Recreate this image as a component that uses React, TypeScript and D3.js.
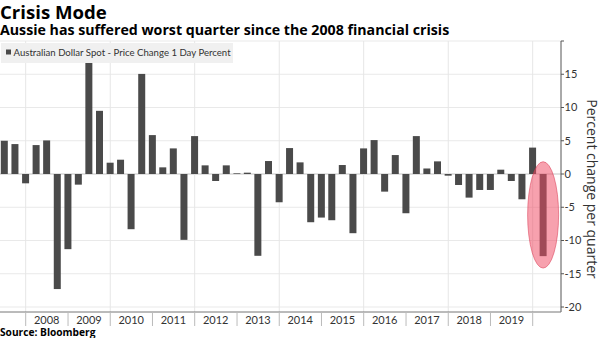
import React from "react";
import * as d3 from "d3";

const quarters: string[] = [
  "2007Q2","2007Q3","2007Q4",
  "2008Q1","2008Q2","2008Q3","2008Q4",
  "2009Q1","2009Q2","2009Q3","2009Q4",
  "2010Q1","2010Q2","2010Q3","2010Q4",
  "2011Q1","2011Q2","2011Q3","2011Q4",
  "2012Q1","2012Q2","2012Q3","2012Q4",
  "2013Q1","2013Q2","2013Q3","2013Q4",
  "2014Q1","2014Q2","2014Q3","2014Q4",
  "2015Q1","2015Q2","2015Q3","2015Q4",
  "2016Q1","2016Q2","2016Q3","2016Q4",
  "2017Q1","2017Q2","2017Q3","2017Q4",
  "2018Q1","2018Q2","2018Q3","2018Q4",
  "2019Q1","2019Q2","2019Q3","2019Q4",
  "2020Q1",
];

const changes: number[] = [
  5.0, 4.5, -1.4,
  4.35, 5.05, -17.3, -11.3,
  -1.6, 16.7, 9.5, 1.7,
  2.15, -8.3, 15.05, 5.85,
  1.0, 3.85, -9.9, 5.7,
  1.3, -1.05, 1.3, 0.1,
  0.2, -12.3, 1.95, -4.25,
  3.9, 1.75, -7.25, -6.55,
  -6.95, 1.35, -8.9, 3.85,
  5.1, -2.65, 2.85, -5.9,
  5.7, 0.83, 1.9, -0.25,
  -1.65, -3.55, -2.4, -2.4,
  0.65, -1.05, -3.8, 3.97,
  -12.35,
];

const yearLabels: number[] = [2008, 2009, 2010, 2011, 2012, 2013, 2014, 2015, 2016, 2017, 2018, 2019];
const yTicks: number[] = [20, 15, 10, 5, 0, -5, -10, -15, -20];
const yLabelTicks: number[] = [15, 10, 5, 0, -5, -10, -15, -20];
const gridYears: number[] = [2008, 2010, 2012, 2014, 2016, 2018, 2020];
const separatorYears: number[] = [2008, 2009, 2010, 2011, 2012, 2013, 2014, 2015, 2016, 2017, 2018, 2019, 2020];
const highlightRange: number[] = [1.85, -14.15];

const title = "Crisis Mode";
const subtitle = "Aussie has suffered worst quarter since the 2008 financial crisis";
const legendLabel = "Australian Dollar Spot - Price Change 1 Day Percent";
const yTitle = "Percent change per quarter";
const source = "Source: Bloomberg";

const W = 600, H = 338;
const plotLeft = 0, plotRight = 561, plotTop = 41, plotBottom = 312;

function quarterEnd(q: string): Date {
  const y = +q.slice(0, 4);
  const n = +q.slice(5);
  return new Date(y, n * 3, 0);
}

export default function App() {
  const x = d3.scaleTime()
    .domain([new Date(2008, 0, 1), new Date(2020, 0, 1)])
    .range([25.7, 532.7]);
  const y = d3.scaleLinear().domain([-20.75, 20]).range([plotBottom, plotTop]);
  const barW = 7;
  const sans = "'Open Sans', sans-serif";
  const last = quarters.length - 1;
  const cx = x(quarterEnd(quarters[last]));
  const cyTop = y(highlightRange[0]);
  const cyBot = y(highlightRange[1]);

  return (
    <svg width={W} height={H} style={{ position: "absolute", left: 0, top: 0, background: "#fff" }}
      fontFamily={sans}>
      <defs>
        <clipPath id="plotclip">
          <rect x={plotLeft} y={plotTop} width={plotRight - plotLeft} height={plotBottom - plotTop} />
        </clipPath>
      </defs>
      {/* horizontal gridlines */}
      {yTicks.map((t) => (
        <line key={"hg" + t} x1={plotLeft} x2={plotRight} y1={y(t)} y2={y(t)}
          stroke={t === 0 ? "#c4c4c4" : "#e9e9e9"} strokeWidth={1} />
      ))}
      {/* vertical gridlines */}
      {gridYears.map((yr) => (
        <line key={"vg" + yr} x1={x(new Date(yr, 0, 1))} x2={x(new Date(yr, 0, 1))}
          y1={plotTop} y2={plotBottom} stroke="#e6e6e6" strokeWidth={1} />
      ))}
      {/* bars */}
      <g clipPath="url(#plotclip)">
        {quarters.map((q, i) => {
          const v = changes[i];
          const xc = x(quarterEnd(q));
          return (
            <rect key={q} x={xc - barW / 2} width={barW}
              y={Math.min(y(v), y(0))} height={Math.abs(y(v) - y(0))}
              fill="#4a4a4a" />
          );
        })}
      </g>
      {/* highlight ellipse */}
      <ellipse cx={cx} cy={(cyTop + cyBot) / 2} rx={15.5} ry={(cyBot - cyTop) / 2}
        fill="#f04a63" fillOpacity={0.52} stroke="#d8324c" strokeOpacity={0.5} strokeWidth={1} />
      {/* legend */}
      <rect x={1} y={43} width={232} height={20} fill="#f0f0f0" />
      <rect x={6} y={49.5} width={5} height={5} fill="#4a4a4a" />
      <text x={13.5} y={56} fontSize={9.6} fill="#333" fontFamily="Lato, sans-serif">{legendLabel}</text>
      {/* right axis */}
      <line x1={plotRight} x2={plotRight} y1={plotTop} y2={plotBottom} stroke="#555" strokeWidth={1} />
      {yTicks.map((t) => (
        <line key={"yt" + t} x1={plotRight} x2={plotRight + 3} y1={y(t)} y2={y(t)} stroke="#555" />
      ))}
      {yLabelTicks.map((t) => (
        <text key={"yl" + t} x={plotRight + 3.5} y={y(t) + 3.8} fontSize={11} fill="#333"
          fontFamily="Lato, sans-serif">{t}</text>
      ))}
      <text transform={`translate(586.5, 189) rotate(90)`} textAnchor="middle" fontSize={14}
        fill="#333" fontFamily={sans}>{yTitle}</text>
      {/* bottom axis */}
      <line x1={plotLeft} x2={plotRight} y1={plotBottom} y2={plotBottom} stroke="#777" strokeWidth={1} />
      {separatorYears.map((yr) => (
        <line key={"sep" + yr} x1={x(new Date(yr, 0, 1))} x2={x(new Date(yr, 0, 1))}
          y1={plotBottom} y2={326} stroke="#bbb" strokeWidth={1} />
      ))}
      {yearLabels.map((yr) => (
        <text key={"xl" + yr} x={x(new Date(yr, 6, 1))} y={323.5} textAnchor="middle"
          fontSize={11} fill="#333" fontFamily="Lato, sans-serif">{yr}</text>
      ))}
      {/* titles */}
      <text x={0} y={19} fontSize={18.6} fontWeight={700} fill="#000">{title}</text>
      <text x={0} y={35} fontSize={14.2} fontWeight={700} fill="#000">{subtitle}</text>
      <text x={0} y={336} fontSize={10.2} fontWeight={700} fill="#000">{source}</text>
    </svg>
  );
}
